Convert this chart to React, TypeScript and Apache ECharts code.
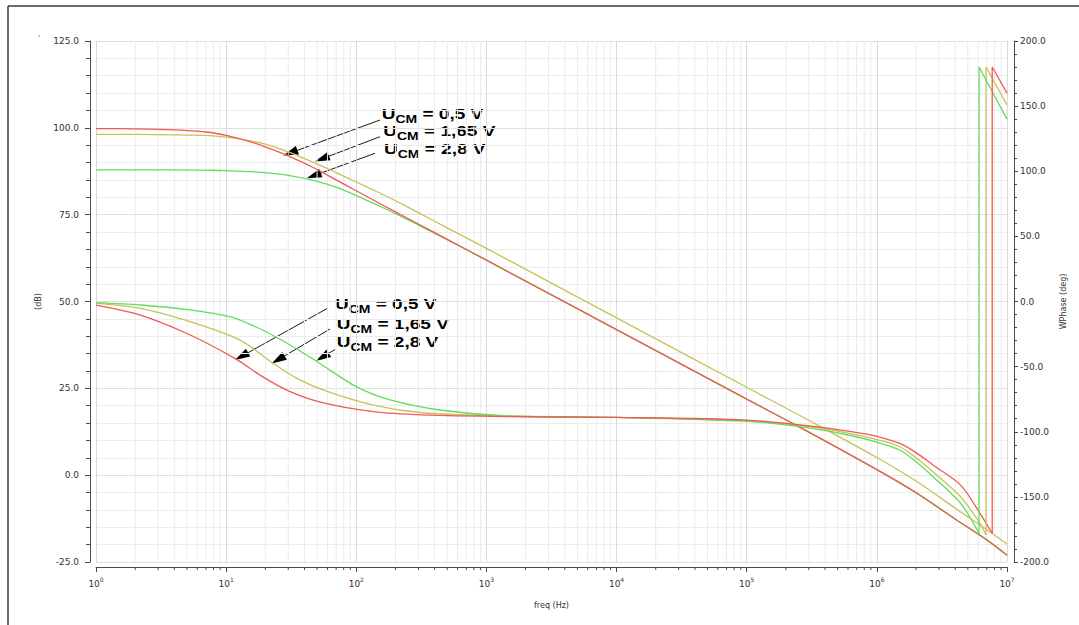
import React, { useEffect, useRef } from "react";
import * as echarts from "echarts";

// ---------- data ----------
const freqMin = 1;
const freqMax = 1e7;
const dbMin = -25;
const dbMax = 125;
const degMin = -200;
const degMax = 200;

const decades = [1, 10, 100, 1e3, 1e4, 1e5, 1e6];
const minorMultipliers = [2, 3, 4, 5, 6, 7, 8, 9];

// open-loop gain (dB)
const gainFreq = [1, 2, 4, 7, 10, 15, 20, 30, 50, 70, 100, 150, 200, 300, 500, 1e3, 1e4, 1e5, 3e5, 1e6, 2e6, 4e6, 7e6, 1e7];
const gainRed = [99.8, 99.7, 99.4, 98.8, 97.8, 96.1, 94.5, 91.9, 88.0, 85.0, 81.9, 78.3, 75.8, 72.3, 67.9, 61.9, 41.9, 21.9, 12.4, 1.6, -5.0, -12.6, -18.6, -23.0];
const gainYellow = [98.1, 98.1, 98.0, 97.8, 97.3, 96.3, 95.3, 93.1, 89.6, 87.1, 84.4, 81.3, 79.0, 75.6, 71.2, 65.3, 45.3, 25.3, 15.8, 5.1, -1.7, -9.5, -15.7, -19.8];
const gainGreen = [87.9, 87.9, 87.9, 87.8, 87.7, 87.4, 87.1, 86.3, 84.6, 82.9, 80.5, 77.5, 75.3, 72.0, 67.8, 61.9, 41.9, 21.9, 12.4, 1.6, -5.1, -12.7, -18.7, -23.1];

// phase (deg)
const redPhaseFreq = [1, 2.2, 5.3, 12, 19, 31, 56, 135, 325, 1450, 1e4, 1e5, 3e5, 6e5, 1e6, 1.5e6, 2e6, 2.7e6, 4.4e6, 6.2e6, 7.7e6];
const redPhase = [-2.7, -10.4, -25.7, -44.4, -57.7, -69.2, -77.9, -84.6, -87.1, -88.4, -89.0, -91.0, -95.5, -99.5, -103.5, -109.0, -116.0, -125.5, -141.0, -162.6, -178.0];
const redWrapFreq = [7.7e6, 7.7e6, 1e7];
const redWrap = [-178.0, 180.0, 160.0];

const yellowPhaseFreq = [1, 2.2, 5.3, 12.8, 23, 35, 56, 135, 325, 1450, 1e4, 1e5, 3e5, 6e5, 1e6, 1.5e6, 2e6, 2.7e6, 4.4e6, 6.2e6, 6.9e6];
const yellowPhase = [-1.4, -5.2, -15.5, -29.6, -47.5, -59.0, -68.0, -79.5, -85.4, -87.9, -89.0, -91.5, -96.0, -101.0, -106.0, -111.5, -120.0, -130.7, -149.9, -170.3, -179.3];
const yellowWrapFreq = [6.9e6, 6.9e6, 1e7];
const yellowWrap = [-179.3, 180.0, 151.0];

const greenPhaseFreq = [1, 2.2, 5.3, 10.7, 19, 31, 50, 100, 182, 437, 1450, 1e4, 1e5, 3e5, 6e5, 1e6, 1.5e6, 2e6, 2.7e6, 4.4e6, 6.1e6];
const greenPhase = [-0.9, -2.7, -6.5, -11.7, -21.9, -33.4, -46.2, -65.4, -75.6, -83.3, -87.9, -89.0, -92.0, -97.0, -102.5, -108.0, -114.0, -123.0, -134.5, -154.9, -178.0];
const greenWrapFreq = [6.1e6, 6.1e6, 1e7];
const greenWrap = [-178.0, 180.0, 140.0];

const annotationValues = ["0,5 V", "1,65 V", "2,8 V"];

// ---------- styles ----------
const RED = "#ef5a55";
const YELLOW = "#c9c157";
const GREEN = "#62dd5e";
const AXIS = "#4a4a4a";
const LABEL = "#333333";
const FONT = "DejaVu Sans";
const ANNO_FONT = "Liberation Sans";

const zip = (xs: number[], ys: number[]) => xs.map((x, i) => [x, ys[i]]);

function lineSeries(xs: number[], ys: number[], color: string, yAxisIndex: number, smooth: number | boolean) {
  return {
    type: "line",
    xAxisIndex: 0,
    yAxisIndex,
    data: zip(xs, ys),
    showSymbol: false,
    symbol: "none",
    smooth,
    silent: true,
    z: 3,
    lineStyle: { color, width: 1.3 },
  };
}

function annotationLine(x: number, y: number, value: string) {
  const s = 1.27;
  const uW = 10.8;
  const cmW = 17.1;
  return {
    type: "group",
    x,
    y,
    scaleX: s,
    children: [
      { type: "text", x: 0, y: 0, style: { text: "U", font: `bold 15px "${ANNO_FONT}"`, fill: "#000", textVerticalAlign: "middle", verticalAlign: "middle" } },
      { type: "text", x: uW, y: 6, style: { text: "CM", font: `bold 11px "${ANNO_FONT}"`, fill: "#000", textVerticalAlign: "middle", verticalAlign: "middle" } },
      { type: "text", x: uW + cmW, y: 0, style: { text: ` = ${value}`, font: `bold 15px "${ANNO_FONT}"`, fill: "#000", textVerticalAlign: "middle", verticalAlign: "middle" } },
    ],
  };
}

function arrow(x1: number, y1: number, x2: number, y2: number) {
  const dx = x2 - x1;
  const dy = y2 - y1;
  const L = Math.hypot(dx, dy);
  const ux = dx / L;
  const uy = dy / L;
  const hl = 15;
  const hw = 4.5;
  const bx = x2 - ux * hl;
  const by = y2 - uy * hl;
  const px = -uy;
  const py = ux;
  return [
    { type: "line", shape: { x1, y1, x2: bx + ux * 2, y2: by + uy * 2 }, style: { stroke: "#1a1a1a", lineWidth: 1 } },
    {
      type: "polygon",
      shape: { points: [[x2, y2], [bx + px * hw, by + py * hw], [bx - px * hw, by - py * hw]] },
      style: { fill: "#000" },
    },
  ];
}

export default function App() {
  const ref = useRef<HTMLDivElement>(null);

  useEffect(() => {
    if (!ref.current) return;
    const chart = echarts.init(ref.current, undefined, { renderer: "svg" });

    const minorFreqs: number[] = [];
    decades.forEach((d) => minorMultipliers.forEach((m) => minorFreqs.push(m * d)));

    const option: any = {
      animation: false,
      backgroundColor: "#ffffff",
      grid: { left: 96, right: 72, top: 41, bottom: 63 },
      xAxis: {
        type: "log",
        logBase: 10,
        min: freqMin,
        max: freqMax,
        offset: 5,
        axisLine: { show: true, onZero: false, lineStyle: { color: AXIS, width: 1 } },
        axisTick: { show: true, length: 5, lineStyle: { color: AXIS } },
        axisLabel: {
          margin: 9,
          color: LABEL,
          formatter: (v: number) => `{b|10}{s|${Math.round(Math.log10(v))}}`,
          rich: {
            b: { fontSize: 9, fontFamily: FONT, color: LABEL, verticalAlign: "bottom", lineHeight: 12 },
            s: { fontSize: 6, fontFamily: FONT, color: LABEL, verticalAlign: "top", lineHeight: 12, padding: [0, 0, 0, 0] },
          },
        },
        splitLine: { show: true, lineStyle: { color: "#d9d9d9", width: 1 } },
        name: "freq (Hz)",
        nameLocation: "middle",
        nameGap: 34,
        nameTextStyle: { fontSize: 8, fontFamily: FONT, color: LABEL },
      },
      yAxis: [
        {
          type: "value",
          position: "left",
          min: dbMin,
          max: dbMax,
          interval: 25,
          offset: 6,
          axisLine: { show: true, lineStyle: { color: AXIS, width: 1 } },
          axisTick: { show: true, length: 5, lineStyle: { color: AXIS } },
          minorTick: { show: true, splitNumber: 5, length: 4, lineStyle: { color: AXIS } },
          splitLine: { show: true, lineStyle: { color: "#e0e0e0", width: 1 } },
          minorSplitLine: { show: true, lineStyle: { color: "#ececec", width: 1 } },
          axisLabel: { formatter: (v: number) => v.toFixed(1), fontSize: 9, fontFamily: FONT, color: LABEL, margin: 11 },
          name: "(dB)",
          nameLocation: "middle",
          nameGap: 40,
          nameRotate: 90,
          nameTextStyle: { fontSize: 8, fontFamily: FONT, color: LABEL },
        },
        {
          type: "value",
          position: "right",
          min: degMin,
          max: degMax,
          interval: 50,
          offset: 7,
          axisLine: { show: true, lineStyle: { color: AXIS, width: 1 } },
          axisTick: { show: true, length: 4, lineStyle: { color: AXIS } },
          minorTick: { show: true, splitNumber: 5, length: 3, lineStyle: { color: AXIS } },
          splitLine: { show: false },
          axisLabel: { formatter: (v: number) => v.toFixed(1), fontSize: 9, fontFamily: FONT, color: LABEL, margin: 6 },
          name: "WPhase (deg)",
          nameLocation: "middle",
          nameGap: 44,
          nameRotate: 90,
          nameTextStyle: { fontSize: 8, fontFamily: FONT, color: LABEL },
        },
      ],
      series: [
        {
          type: "custom",
          xAxisIndex: 0,
          yAxisIndex: 0,
          silent: true,
          clip: false,
          z: 1,
          data: minorFreqs.map((f) => [f, dbMin]),
          encode: { x: 0, y: 1 },
          renderItem: (_params: any, api: any) => {
            const f = api.value(0);
            const b = api.coord([f, dbMin]);
            const t = api.coord([f, dbMax]);
            return {
              type: "group",
              children: [
                { type: "line", shape: { x1: b[0], y1: t[1], x2: b[0], y2: b[1] }, style: { stroke: "#ebebeb", lineWidth: 1 } },
                { type: "line", shape: { x1: b[0], y1: b[1] + 5, x2: b[0], y2: b[1] + 8 }, style: { stroke: AXIS, lineWidth: 1 } },
              ],
            };
          },
        },
        lineSeries(gainFreq, gainYellow, YELLOW, 0, 0.3),
        lineSeries(gainFreq, gainGreen, GREEN, 0, 0.3),
        lineSeries(gainFreq, gainRed, RED, 0, 0.3),
        lineSeries(yellowPhaseFreq, yellowPhase, YELLOW, 1, 0.3),
        lineSeries(greenPhaseFreq, greenPhase, GREEN, 1, 0.3),
        lineSeries(redPhaseFreq, redPhase, RED, 1, 0.3),
        lineSeries(yellowWrapFreq, yellowWrap, YELLOW, 1, false),
        lineSeries(greenWrapFreq, greenWrap, GREEN, 1, false),
        lineSeries(redWrapFreq, redWrap, RED, 1, false),
      ],
      graphic: [
        { type: "line", shape: { x1: 8, y1: 6, x2: 1079, y2: 6 }, style: { stroke: "#3a3a3a", lineWidth: 1.5 } },
        { type: "line", shape: { x1: 8, y1: 6, x2: 8, y2: 625 }, style: { stroke: "#3a3a3a", lineWidth: 1.5 } },
        { type: "circle", shape: { cx: 39, cy: 36, r: 0.7 }, style: { fill: "#777" } },
        annotationLine(381.7, 113.7, annotationValues[0]),
        annotationLine(383.3, 130.3, annotationValues[1]),
        annotationLine(384, 148.7, annotationValues[2]),
        annotationLine(335, 303.7, annotationValues[0]),
        annotationLine(336.7, 323.7, annotationValues[1]),
        annotationLine(336.7, 342, annotationValues[2]),
        ...arrow(380, 120, 283.3, 155.5),
        ...arrow(380, 136.7, 315, 161.5),
        ...arrow(375, 153.3, 306.7, 178.3),
        ...arrow(327.5, 308.3, 235, 360),
        ...arrow(330, 329, 271.7, 363.5),
        ...arrow(335, 349.5, 316, 361),
      ],
    };

    chart.setOption(option);
    return () => chart.dispose();
  }, []);

  return (
    <div
      ref={ref}
      style={{ position: "absolute", left: 0, top: 0, width: 1079, height: 625, background: "#fff" }}
    />
  );
}
